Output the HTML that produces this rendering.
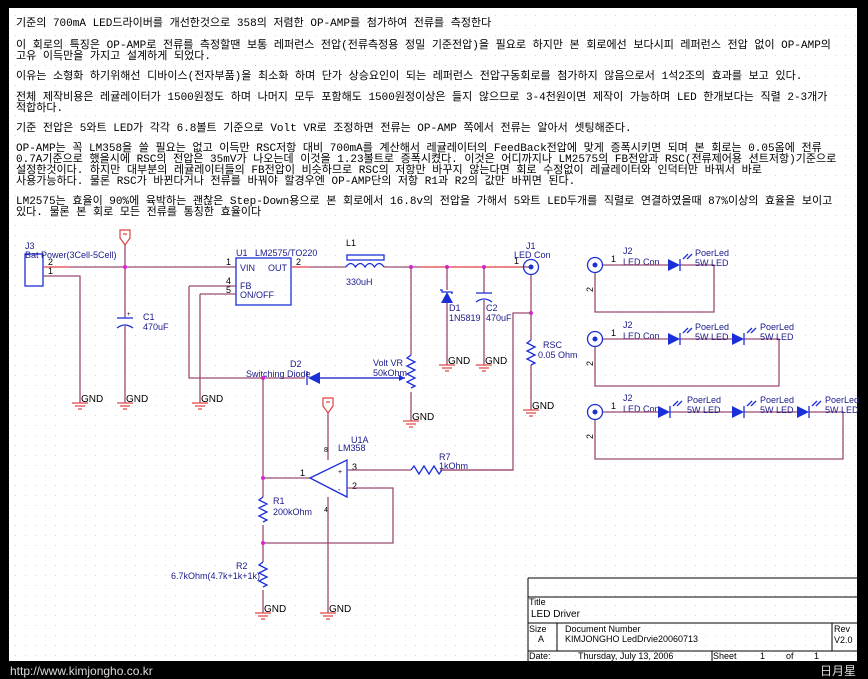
<!DOCTYPE html>
<html><head><meta charset="utf-8"><style>
html,body{margin:0;padding:0;background:#000;}
svg{display:block}
.t{font-family:"Liberation Mono","Noto Sans CJK KR",monospace;font-size:11px;fill:#000}
.s{font-family:"Liberation Sans",sans-serif;font-size:9px;fill:#1a1a8a}
.k{font-family:"Liberation Sans",sans-serif;font-size:9px;fill:#000}
.w{stroke:#9a4a72;stroke-width:1.3;fill:none}
.r{stroke:#f05a5a;stroke-width:1.3;fill:none}
.b{stroke:#1b2fd8;stroke-width:1.3;fill:none}
.g{stroke:#e04040;stroke-width:1.2;fill:none}
</style></head><body>
<svg width="868" height="679" viewBox="0 0 868 679" xmlns="http://www.w3.org/2000/svg">
<defs>
<pattern id="dots" width="10" height="10" patternUnits="userSpaceOnUse"><rect x="5" y="5" width="1" height="1" fill="#d4d4d4"/></pattern>
<g id="gnd"><line x1="-8" y1="0" x2="8" y2="0" class="g"/><line x1="-5" y1="3" x2="5" y2="3" class="g"/><line x1="-2" y1="6" x2="2" y2="6" class="g"/><text x="1" y="-1" class="k" style="font-size:10px">GND</text></g>
<g id="vcc"><path d="M-5,0 h10 v8 l-5,7 l-5,-7 z" class="g"/><line x1="-2" y1="4" x2="2" y2="4" class="g"/></g>
<g id="led"><path d="M-7,-6 L5,0 L-7,6 Z" fill="#1b2fd8"/><line x1="5" y1="-6" x2="5" y2="6" class="b" stroke-width="2"/><path d="M8,-6 l5,-5 M12,-6 l5,-5" class="b" stroke-width="1"/></g>
<g id="jc"><circle r="7.5" class="b"/><circle r="2.5" fill="#1b2fd8"/></g>
</defs>
<rect x="9" y="8" width="848" height="653" fill="#fff"/>
<rect x="9" y="8" width="848" height="653" fill="url(#dots)"/>

<g class="t">
<text x="16" y="26">기준의 700mA LED드라이버를 개선한것으로 358의 저렴한 OP-AMP를 첨가하여 전류를 측정한다</text>
<text x="16" y="48">이 회로의 특징은 OP-AMP로 전류를 측정할땐 보통 레퍼런스 전압(전류측정용 정밀 기준전압)을 필요로 하지만 본 회로에선 보다시피 레퍼런스 전압 없이 OP-AMP의</text>
<text x="16" y="59">고유 이득만을 가지고 설계하게 되었다.</text>
<text x="16" y="79">이유는 소형화 하기위해선 디바이스(전자부품)을 최소화 하며 단가 상승요인이 되는 레퍼런스 전압구동회로를 첨가하지 않음으로서 1석2조의 효과를 보고 있다.</text>
<text x="16" y="100">전체 제작비용은 레귤레이터가 1500원정도 하며 나머지 모두 포함해도 1500원정이상은 들지 않으므로 3-4천원이면 제작이 가능하며 LED 한개보다는 직렬 2-3개가</text>
<text x="16" y="111">적합하다.</text>
<text x="16" y="131">기준 전압은 5와트 LED가 각각 6.8볼트 기준으로 Volt VR로 조정하면 전류는 OP-AMP 쪽에서 전류는 알아서 셋팅해준다.</text>
<text x="16" y="151">OP-AMP는 꼭 LM358을 쓸 필요는 없고 이득만 RSC저항 대비 700mA를 계산해서 레귤레이터의 FeedBack전압에 맞게 증폭시키면 되며 본 회로는 0.05옴에 전류</text>
<text x="16" y="162">0.7A기준으로 했을시에 RSC의 전압은 35mV가 나오는데 이것을 1.23볼트로 증폭시켰다. 이것은 어디까지나 LM2575의 FB전압과 RSC(전류제어용 션트저항)기준으로</text>
<text x="16" y="173">설정한것이다. 하지만 대부분의 레귤레이터들의 FB전압이 비슷하므로 RSC의 저항만 바꾸지 않는다면 회로 수정없이 레귤레이터와 인덕터만 바꿔서 바로</text>
<text x="16" y="184">사용가능하다. 물론 RSC가 바뀐다거나 전류를 바꿔야 할경우엔 OP-AMP단의 저항 R1과 R2의 값만 바뀌면 된다.</text>
<text x="16" y="204">LM2575는 효율이 90%에 육박하는 괜찮은 Step-Down용으로 본 회로에서 16.8v의 전압을 가해서 5와트 LED두개를 직렬로 연결하였을때 87%이상의 효율을 보이고</text>
<text x="16" y="215">있다. 물론 본 회로 모든 전류를 통칭한 효율이다</text>
</g>

<!-- J3 -->
<rect x="25" y="254" width="18" height="32" class="b"/>
<text x="25" y="249" class="s">J3</text><text x="25" y="258" class="s">Bat Power(3Cell-5Cell)</text>
<text x="48" y="265" class="k">2</text><text x="48" y="274" class="k">1</text>
<path d="M43,267 H236" class="w"/><path d="M43,267 H70" class="r"/>
<path d="M43,276 H80 V403" class="w"/>
<use href="#gnd" x="80" y="403"/>
<!-- C1 -->
<use href="#vcc" x="125" y="230"/>
<path d="M125,245 V318 M125,326 V403" class="w"/>
<circle cx="125" cy="267" r="2" fill="#e020e0"/>
<line x1="117" y1="318" x2="133" y2="318" class="b"/><path d="M117,328 Q125,322 133,328" class="b"/>
<text x="127" y="316" class="k" style="font-size:6px">+</text>
<text x="143" y="320" class="s">C1</text><text x="143" y="330" class="s">470uF</text>
<use href="#gnd" x="125" y="403"/>
<!-- U1 -->
<rect x="236" y="258" width="55" height="47" class="b"/>
<text x="236" y="256" class="s">U1</text><text x="255" y="256" class="s">LM2575/TO220</text>
<text x="240" y="271" class="s">VIN</text><text x="268" y="271" class="s">OUT</text>
<text x="240" y="289" class="s">FB</text><text x="240" y="298" class="s">ON/OFF</text>
<text x="226" y="265" class="k">1</text><text x="296" y="265" class="k">2</text>
<text x="226" y="284" class="k">4</text><text x="226" y="293" class="k">5</text>
<path d="M189,286 H236 M189,286 V378 H305" class="w"/>
<path d="M200,294 H236 M200,294 V403" class="w"/>
<use href="#gnd" x="200" y="403"/>
<!-- L1 -->
<path d="M291,267 H346 M384,267 H530" class="w"/><path d="M291,267 H310 M420,267 H520" class="r"/>
<rect x="347" y="255" width="37" height="5" class="b"/>
<path d="M346,267 q4.75,-7 9.5,0 q4.75,-7 9.5,0 q4.75,-7 9.5,0 q4.75,-7 9.5,0" class="b"/>
<text x="346" y="246" class="k">L1</text><text x="346" y="285" class="s">330uH</text>
<circle cx="411" cy="267" r="2" fill="#e020e0"/><circle cx="447" cy="267" r="2" fill="#e020e0"/><circle cx="484" cy="267" r="2" fill="#e020e0"/>
<!-- D1 -->
<path d="M447,267 V290 M447,303 V365" class="w"/>
<path d="M441,303 L447,292 L453,303 Z" fill="#1b2fd8"/><path d="M440,290 h2 v2 h10 v2" class="b"/>
<text x="449" y="311" class="s">D1</text><text x="449" y="321" class="s">1N5819</text>
<use href="#gnd" x="447" y="365"/>
<!-- C2 -->
<path d="M484,267 V293 M484,300 V365" class="w"/>
<line x1="476" y1="293" x2="492" y2="293" class="b"/><path d="M476,302 Q484,296 492,302" class="b"/>
<text x="486" y="311" class="s">C2</text><text x="486" y="321" class="s">470uF</text>
<use href="#gnd" x="484" y="365"/>
<!-- J1 -->
<use href="#jc" x="531" y="267"/>
<text x="526" y="249" class="s">J1</text><text x="514" y="258" class="s">LED Con</text>
<text x="514" y="264" class="k">1</text>
<path d="M531,275 V340 M531,365 V410" class="w"/>
<circle cx="531" cy="313" r="2" fill="#e020e0"/>
<path d="M531,313 H513 V470 H440" class="w"/>
<path d="M531,340 l-4,3 l8,4 l-8,4 l8,4 l-8,4 l8,4 l-4,2" class="b"/>
<text x="543" y="348" class="s">RSC</text><text x="538" y="358" class="s">0.05 Ohm</text>
<use href="#gnd" x="531" y="410"/>
<!-- Volt VR -->
<path d="M411,267 V355 M411,392 V421" class="w"/>
<path d="M411,355 l-4,3 l8,4 l-8,4 l8,4 l-8,4 l8,4 l-8,4 l8,4 l-4,2" class="b"/>
<text x="373" y="366" class="s">Volt VR</text><text x="373" y="376" class="s">50kOhm</text>
<use href="#gnd" x="411" y="421"/>
<!-- D2 -->
<path d="M320,378 H405" class="w"/><path d="M320,378 H405" class="b"/>
<path d="M405,378 l-6,-3 v6 z" fill="#1b2fd8"/>
<path d="M320,372 L308,378 L320,384 Z" fill="#1b2fd8"/><line x1="307" y1="371" x2="307" y2="385" class="b"/>
<text x="290" y="367" class="s">D2</text><text x="246" y="377" class="s">Switching Diode</text>
<circle cx="263" cy="378" r="2" fill="#e020e0"/>
<!-- opamp -->
<path d="M263,378 V497 M263,525 V562 M263,590 V613" class="w"/>
<path d="M263,497 l-4,3 l8,4 l-8,4 l8,4 l-8,4 l8,4 l-4,2 M263,562 l-4,3 l8,4 l-8,4 l8,4 l-8,4 l8,4 l-4,2" class="b"/>
<circle cx="263" cy="478" r="2" fill="#e020e0"/><circle cx="263" cy="543" r="2" fill="#e020e0"/>
<path d="M263,478 H310" class="w"/>
<path d="M310,478 L347,460 V497 Z" class="b"/>
<text x="338" y="474" class="k" style="font-size:7px">+</text><text x="338" y="492" class="k" style="font-size:7px">-</text>
<use href="#vcc" x="328" y="398"/>
<path d="M328,413 V460 M328,497 V613" class="w"/>
<text x="324" y="452" class="k" style="font-size:7px">8</text><text x="324" y="512" class="k" style="font-size:7px">4</text>
<text x="351" y="443" class="s">U1A</text><text x="338" y="451" class="s">LM358</text>
<text x="300" y="476" class="k">1</text><text x="352" y="470" class="k">3</text><text x="352" y="489" class="k">2</text>
<path d="M347,470 H411 M440,470 H513" class="w"/>
<path d="M411,470 l3,-4 l5,8 l5,-8 l5,8 l5,-8 l5,8 l3,-4" class="b"/>
<text x="439" y="460" class="s">R7</text><text x="439" y="469" class="s">1kOhm</text>
<path d="M347,488 H393 V543 H263" class="w"/>
<text x="273" y="504" class="s">R1</text><text x="273" y="515" class="s">200kOhm</text>
<text x="236" y="569" class="s">R2</text><text x="171" y="579" class="s">6.7kOhm(4.7k+1k+1k)</text>
<use href="#gnd" x="263" y="613"/><use href="#gnd" x="328" y="613"/>

<!-- LED panels -->
<g>
<use href="#jc" x="595" y="265"/>
<text x="611" y="262" class="k">1</text><text x="623" y="254" class="s">J2</text><text x="623" y="265" class="s">LED Con</text>
<path d="M603,265 H668 M680,265 H714 V312 H595 V273" class="w"/>
<use href="#led" x="675" y="265"/>
<text x="695" y="256" class="s">PoerLed</text><text x="695" y="266" class="s">5W LED</text>
<text x="593" y="292" class="k" transform="rotate(-90 593 292)">2</text>
</g>
<g>
<use href="#jc" x="595" y="339"/>
<text x="611" y="336" class="k">1</text><text x="623" y="328" class="s">J2</text><text x="623" y="339" class="s">LED Con</text>
<path d="M603,339 H668 M680,339 H732 M744,339 H779 V386 H595 V347" class="w"/>
<use href="#led" x="675" y="339"/><use href="#led" x="739" y="339"/>
<text x="695" y="330" class="s">PoerLed</text><text x="695" y="340" class="s">5W LED</text>
<text x="760" y="330" class="s">PoerLed</text><text x="760" y="340" class="s">5W LED</text>
<text x="593" y="366" class="k" transform="rotate(-90 593 366)">2</text>
</g>
<g>
<use href="#jc" x="595" y="412"/>
<text x="611" y="409" class="k">1</text><text x="623" y="401" class="s">J2</text><text x="623" y="412" class="s">LED Con</text>
<path d="M603,412 H658 M670,412 H732 M744,412 H797 M809,412 H843 V459 H595 V420" class="w"/>
<use href="#led" x="665" y="412"/><use href="#led" x="739" y="412"/><use href="#led" x="804" y="412"/>
<text x="687" y="403" class="s">PoerLed</text><text x="687" y="413" class="s">5W LED</text>
<text x="760" y="403" class="s">PoerLed</text><text x="760" y="413" class="s">5W LED</text>
<text x="825" y="403" class="s">PoerLed</text><text x="825" y="413" class="s">5W LED</text>
<text x="593" y="439" class="k" transform="rotate(-90 593 439)">2</text>
</g>

<!-- title block -->
<g stroke="#000" stroke-width="1" fill="none">
<path d="M528,578 H857 M528,578 V661 M528,597 H857 M528,623 H857 M528,651 H857 M557,623 V651 M832,623 V651 M712,651 V661"/>
</g>
<text x="529" y="605" class="k">Title</text><text x="531" y="617" class="k" style="font-size:10px">LED Driver</text>
<text x="529" y="632" class="k">Size</text><text x="538" y="642" class="k">A</text>
<text x="565" y="632" class="k">Document Number</text><text x="565" y="642" class="k">KIMJONGHO LedDrvie20060713</text>
<text x="834" y="632" class="k">Rev</text><text x="834" y="643" class="k">V2.0</text>
<text x="529" y="659" class="k">Date:</text><text x="578" y="659" class="k">Thursday, July 13, 2006</text>
<text x="713" y="659" class="k">Sheet</text><text x="760" y="659" class="k">1</text><text x="786" y="659" class="k">of</text><text x="814" y="659" class="k">1</text>

<text x="10" y="675" style="font-family:'Liberation Sans',sans-serif;font-size:12px;fill:#ddd">http://www.kimjongho.co.kr</text>
<text x="820" y="675" style="font-family:'Noto Sans CJK KR',sans-serif;font-size:12px;fill:#ddd">日月星</text>
</svg>
</body></html>
